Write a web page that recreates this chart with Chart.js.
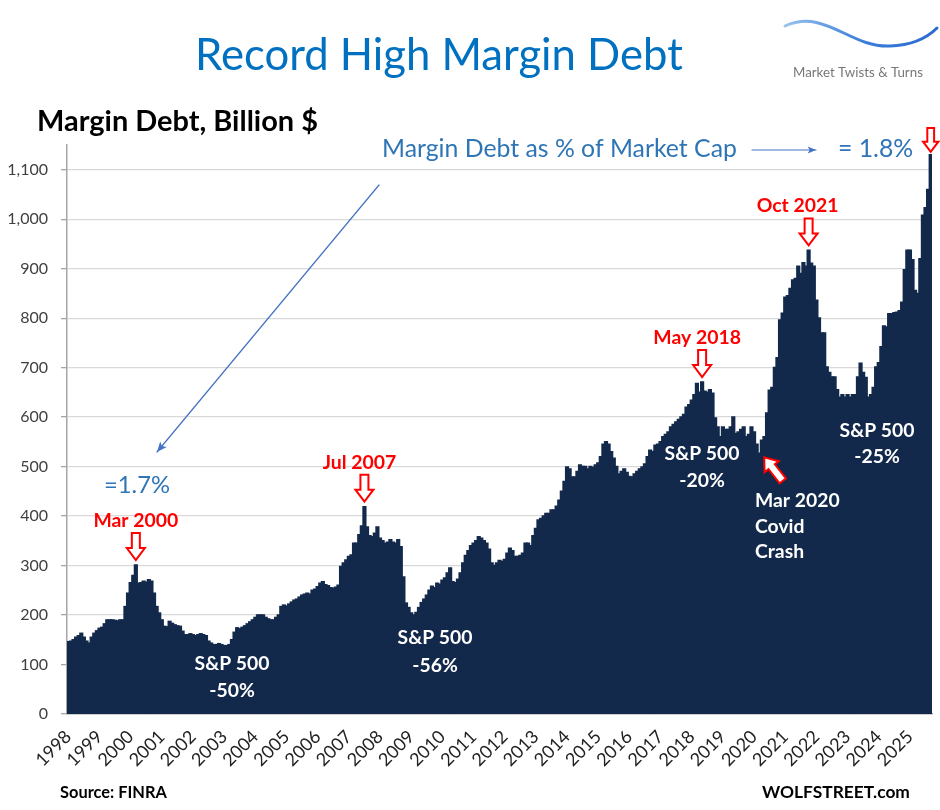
<!DOCTYPE html>
<html><head><meta charset="utf-8">
<script src="https://cdn.jsdelivr.net/npm/chart.js@4.4.1/dist/chart.umd.min.js"></script>
<style>html,body{margin:0;padding:0;background:#fff;}#wrap{width:940px;height:810px;position:relative;}</style>
</head><body><div id="wrap"><canvas id="c" width="940" height="810"></canvas></div>
<script>
// ---- DATA ----
const years = ['1998','1999','2000','2001','2002','2003','2004','2005','2006','2007','2008','2009','2010','2011','2012','2013','2014','2015','2016','2017','2018','2019','2020','2021','2022','2023','2024','2025'];
const monthNames = ['Jan','Feb','Mar','Apr','May','Jun','Jul','Aug','Sep','Oct','Nov','Dec'];
// Margin debt, billion $, monthly Jan 1998 .. Sep 2025
const marginDebt = [
  146,147,150,155,158,163,155,147,143,155,163,168, // 1998
  173,175,182,190,190,190,189,188,190,190,217,244, // 1999
  265,280,301,264,265,268,266,271,268,244,217,204, // 2000
  190,177,176,187,183,180,178,177,167,160,160,162, // 2001
  160,158,160,162,160,158,147,143,140,140,142,140, // 2002
  138,138,140,150,165,174,172,175,178,182,186,190, // 2003
  195,200,200,200,195,192,190,190,195,200,217,220, // 2004
  218,222,226,230,232,236,240,242,244,242,250,252, // 2005
  257,264,267,261,259,255,254,256,260,298,305,311, // 2006
  318,321,345,345,362,380,419,378,360,358,365,378, // 2007
  355,350,345,347,352,347,345,352,338,277,224,215, // 2008
  204,200,205,215,225,232,240,250,258,255,264,262, // 2009
  270,275,285,295,267,265,272,285,305,320,330,340, // 2010
  345,350,358,355,350,345,333,305,300,305,310,308, // 2011
  312,325,335,330,318,318,320,325,345,345,340,360, // 2012
  375,392,395,400,405,405,412,412,420,432,450,470, // 2013
  499,495,479,479,490,503,500,500,495,500,498,503, // 2014
  507,520,545,550,545,530,517,500,485,490,495,488, // 2015
  480,479,485,490,495,499,505,520,533,530,543,545, // 2016
  550,560,565,570,580,585,590,595,600,605,620,625, // 2017
  634,645,668,650,671,652,650,655,648,598,580,560, // 2018
  580,575,575,580,600,567,570,575,580,560,565,580, // 2019
  570,545,527,553,560,608,654,660,700,720,796,810, // 2020
  842,845,860,877,880,905,890,912,905,937,911,905, // 2021
  836,800,770,770,701,690,681,681,655,640,645,640, // 2022
  645,640,645,645,681,709,690,680,640,645,660,701, // 2023
  710,742,784,782,809,809,811,812,815,832,898,937, // 2024
  937,918,856,850,920,1008,1023,1060,1130          // 2025
];
const months = marginDebt.map((_, i) => monthNames[i % 12] + ' ' + years[Math.floor(i / 12)]);
const yTicks = [0,100,200,300,400,500,600,700,800,900,1000,1100];

// peak labels: [text, year, month(1-12), label x shift]
const peakLabels = [['Mar 2000',2000,3,0],['Jul 2007',2007,7,-5],['May 2018',2018,5,-5],['Oct 2021',2021,10,-11]];
const crashLabels = [
  [['S&P 500','-50%'], 232, [670, 697]],
  [['S&P 500','-56%'], 435, [644, 672]],
  [['S&P 500','-20%'], 702, [460, 487]],
  [['S&P 500','-25%'], 877, [437, 463]]
];

const FONT = 'Lato';
function fitSize(ctx, text, width, weight) {
  ctx.font = `${weight} 100px ${FONT}`;
  return 100 * width / ctx.measureText(text).width;
}
function txt(ctx, text, x, y, size, weight, color, align) {
  ctx.font = `${weight} ${size}px ${FONT}`;
  ctx.fillStyle = color; ctx.textAlign = align || 'left'; ctx.textBaseline = 'alphabetic';
  ctx.fillText(text, x, y);
}
function hollowArrow(ctx, tx, ty, len, angle, sc) {
  sc = sc || 1;
  ctx.save(); ctx.translate(tx, ty); ctx.rotate(angle);
  const sw = 4 * sc, hw = 9 * sc, hh = 12 * sc;
  ctx.beginPath();
  ctx.moveTo(-sw, -len); ctx.lineTo(sw, -len); ctx.lineTo(sw, -hh); ctx.lineTo(hw, -hh);
  ctx.lineTo(0, 0); ctx.lineTo(-hw, -hh); ctx.lineTo(-sw, -hh); ctx.closePath();
  ctx.fillStyle = '#fff'; ctx.fill();
  ctx.lineWidth = 2; ctx.strokeStyle = '#ff0000'; ctx.lineJoin = 'miter'; ctx.stroke();
  ctx.restore();
}
function lineArrow(ctx, x1, y1, x2, y2, color, head) {
  ctx.save();
  ctx.strokeStyle = color; ctx.fillStyle = color; ctx.lineWidth = 1.2;
  ctx.beginPath(); ctx.moveTo(x1, y1); ctx.lineTo(x2, y2); ctx.stroke();
  const a = Math.atan2(y2 - y1, x2 - x1);
  ctx.beginPath();
  ctx.moveTo(x2, y2);
  ctx.lineTo(x2 - head * Math.cos(a - 0.4), y2 - head * Math.sin(a - 0.4));
  ctx.lineTo(x2 - head * 0.7 * Math.cos(a), y2 - head * 0.7 * Math.sin(a));
  ctx.lineTo(x2 - head * Math.cos(a + 0.4), y2 - head * Math.sin(a + 0.4));
  ctx.closePath(); ctx.fill();
  ctx.restore();
}

const annot = {
  id: 'annot',
  afterDraw(chart) {
    const ctx = chart.ctx, xs = chart.scales.x, ys = chart.scales.y;
    ctx.save();
    // title
    txt(ctx, 'Record High Margin Debt', 195, 70, fitSize(ctx, 'Record High Margin Debt', 488, 400), 400, '#0070C0');
    // logo
    const g = ctx.createLinearGradient(784, 0, 938, 0);
    g.addColorStop(0, '#9cc3f0'); g.addColorStop(0.5, '#3d7fd9'); g.addColorStop(1, '#2a6ad0');
    ctx.strokeStyle = g; ctx.lineWidth = 3; ctx.lineCap = 'round';
    ctx.beginPath(); ctx.moveTo(785, 26);
    ctx.bezierCurveTo(825, 8, 850, 48, 890, 46);
    ctx.quadraticCurveTo(920, 45, 937, 28);
    ctx.stroke();
    txt(ctx, 'Market Twists & Turns', 793, 77, fitSize(ctx, 'Market Twists & Turns', 130, 400), 400, '#777777');
    // axis title
    txt(ctx, 'Margin Debt, Billion $', 37, 131, fitSize(ctx, 'Margin Debt, Billion $', 281, 700), 700, '#000000');
    // blue notes
    const bsz = fitSize(ctx, 'Margin Debt as % of Market Cap', 355, 400);
    txt(ctx, 'Margin Debt as % of Market Cap', 382, 157, bsz, 400, '#2E75B6');
    lineArrow(ctx, 752, 150, 816, 150, '#4472C4', 9);
    txt(ctx, '= 1.8%', 838, 157, bsz, 400, '#2E75B6');
    txt(ctx, '=1.7%', 104, 493, fitSize(ctx, '=1.7%', 66, 400), 400, '#2E75B6');
    lineArrow(ctx, 379, 185, 157, 452, '#4472C4', 11);
    // red peak labels + arrows
    const rsz = fitSize(ctx, 'Mar 2000', 85, 700);
    peakLabels.forEach(([t, yr, m, dx]) => {
      const i = (yr - 1998) * 12 + (m - 1);
      const bx = xs.getPixelForValue(i), by = ys.getPixelForValue(marginDebt[i]);
      const tip = by - 5, len = 27;
      hollowArrow(ctx, bx, tip, len, 0);
      txt(ctx, t, bx + dx, tip - len - 6, rsz, 700, '#ff0000', 'center');
    });
    // latest value arrow
    const li = marginDebt.length - 1;
    hollowArrow(ctx, xs.getPixelForValue(li), ys.getPixelForValue(marginDebt[li]) - 3, 24, 0, 0.85);
    // Mar 2020 arrow
    const ci = (2020 - 1998) * 12 + 2;
    hollowArrow(ctx, xs.getPixelForValue(ci) + 5, ys.getPixelForValue(marginDebt[ci]) + 4, 30, 142 * Math.PI / 180);
    // white labels
    const wsz = fitSize(ctx, 'S&P 500', 75, 700);
    crashLabels.forEach(([lines, cx, ysArr]) => {
      lines.forEach((l, k) => txt(ctx, l, cx, ysArr[k], wsz, 700, '#ffffff', 'center'));
    });
    txt(ctx, 'Mar 2020', 755, 507, wsz, 700, '#ffffff');
    txt(ctx, 'Covid', 755, 533, wsz, 700, '#ffffff');
    txt(ctx, 'Crash', 755, 558, wsz, 700, '#ffffff');
    // footer
    txt(ctx, 'Source: FINRA', 60, 798, fitSize(ctx, 'Source: FINRA', 107, 700), 700, '#000000');
    txt(ctx, 'WOLFSTREET.com', 762, 798, fitSize(ctx, 'WOLFSTREET.com', 148, 700), 700, '#000000');
    ctx.restore();
  }
};

new Chart(document.getElementById('c'), {
  type: 'bar',
  data: {
    labels: months,
    datasets: [{ data: marginDebt, backgroundColor: '#13294b', borderWidth: 0, barPercentage: 1, categoryPercentage: 1, inflateAmount: 0.8 }]
  },
  options: {
    responsive: false,
    animation: false,
    events: [],
    layout: { padding: { top: 145, right: 8, left: 0, bottom: 0 } },
    plugins: { legend: { display: false }, tooltip: { enabled: false } },
    scales: {
      x: {
        grid: { display: false },
        border: { display: true, color: '#a6a6a6', width: 1.5 },
        ticks: {
          autoSkip: false, minRotation: 45, maxRotation: 45, padding: 4,
          color: '#222222', font: { family: FONT, size: 18 },
          callback: (v) => (v % 12 === 0 ? years[v / 12] : '')
        },
        afterBuildTicks: (s) => { s.ticks = s.ticks.filter(t => t.value % 12 === 0); },
        afterFit: (s) => { s.height = 96; }
      },
      y: {
        min: 0, max: 1150,
        ticks: {
          stepSize: 100, padding: 13, color: '#404040', font: { family: FONT, size: 16 },
          callback: (v) => v.toLocaleString('en-US')
        },
        afterBuildTicks: (s) => { s.ticks = yTicks.map(v => ({ value: v })); },
        grid: { color: '#d9d9d9', lineWidth: 1.3, tickLength: 6, tickColor: '#a6a6a6' },
        border: { color: '#a6a6a6', width: 1.5 },
        afterFit: (s) => { s.width = 67; }
      }
    }
  },
  plugins: [annot]
});
</script></body></html>
